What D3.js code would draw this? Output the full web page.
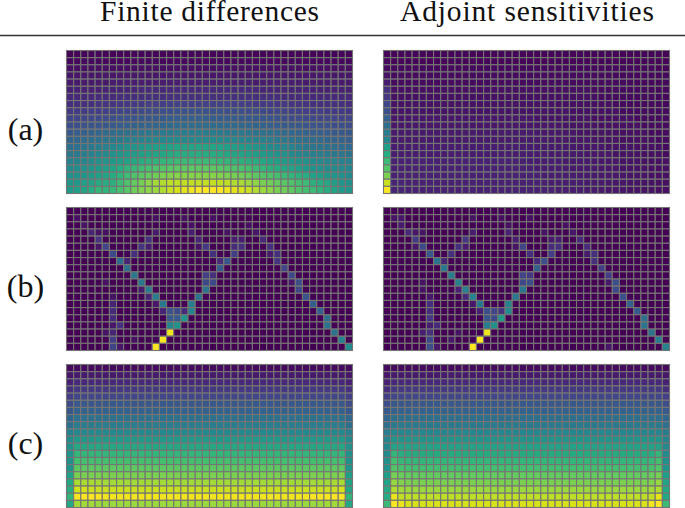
<!DOCTYPE html>
<html><head><meta charset="utf-8">
<script src="https://cdn.jsdelivr.net/npm/d3@7"></script>
<style>html,body{margin:0;padding:0;background:#fff;overflow:hidden}svg{display:block}</style>
</head><body><svg id="chart" width="685" height="508"></svg>
<script>
const columnTitles = ["Finite differences", "Adjoint sensitivities"];
const rowLabels = ["(a)", "(b)", "(c)"];
const columnCount = 40;
const rowCount = 20;

const aFiniteDifferences = [
[1,1,1,1,1,1,1,1,1,1,1,1,1,1,1,1,1,1,1,1,1,1,1,1,1,1,1,1,1,1,1,1,1,1,1,1,1,1,1,1],
[2,2,2,2,2,2,2,2,2,2,2,2,2,2,2,2,2,2,2,2,2,2,2,2,2,2,2,2,2,2,2,2,2,2,2,2,2,2,2,2],
[4,4,4,4,4,4,4,4,4,4,4,4,4,4,4,4,4,4,4,4,4,4,4,4,4,4,4,4,4,4,4,4,4,4,4,4,4,4,4,4],
[6,6,6,6,6,6,6,6,6,6,6,6,6,6,6,6,6,6,6,6,6,6,6,6,6,6,6,6,6,6,6,6,6,6,6,6,6,6,6,6],
[7,7,7,7,7,7,8,8,8,8,8,8,8,8,8,8,8,8,8,8,8,8,8,8,8,8,8,8,8,8,8,8,8,7,7,7,7,7,7,7],
[9,9,9,9,9,10,10,10,10,10,11,11,11,11,11,11,11,11,11,11,11,11,11,11,11,11,11,10,10,10,10,10,10,10,9,9,9,9,9,9],
[11,11,11,11,12,12,12,13,13,13,13,14,14,14,14,14,14,14,14,14,14,14,14,14,14,14,13,13,13,13,12,12,12,12,11,11,11,11,11,11],
[14,14,14,14,15,15,15,16,16,17,17,18,18,18,19,19,19,19,19,19,19,19,19,18,18,18,17,17,17,16,16,15,15,15,14,14,14,14,14,13],
[17,17,17,18,18,19,20,20,21,21,22,23,23,24,24,25,25,25,25,25,25,25,24,24,24,23,23,22,21,21,20,19,19,18,18,18,17,17,17,16],
[20,20,21,22,22,23,24,25,25,26,27,27,28,28,29,29,30,30,30,30,30,29,29,29,28,28,27,27,26,25,24,23,23,22,22,21,21,20,20,20],
[24,24,25,26,26,27,28,29,30,31,31,32,33,33,34,34,35,35,35,35,35,34,34,34,33,33,32,31,30,29,28,28,27,26,26,25,25,24,24,23],
[28,29,30,31,33,34,35,36,37,38,39,40,40,41,41,42,42,42,42,42,42,41,41,40,40,39,38,37,36,35,34,33,32,31,30,30,29,28,27,27],
[32,33,34,36,37,39,40,41,43,44,45,46,47,47,48,48,48,48,48,48,48,48,47,47,46,45,44,43,42,41,40,38,37,36,35,34,33,32,31,30],
[36,37,38,40,42,44,46,48,50,52,54,55,56,57,58,59,59,59,59,59,59,58,57,56,55,54,52,50,48,47,46,44,42,41,39,38,37,36,35,34],
[40,41,42,44,46,48,50,52,54,55,57,58,59,60,61,62,62,62,62,62,62,61,60,59,58,57,56,55,53,52,50,48,46,45,43,42,41,40,39,38],
[44,45,46,48,50,52,54,56,58,60,62,64,65,66,67,68,68,68,68,68,68,67,66,65,64,63,62,60,58,57,55,53,52,50,48,47,46,45,44,43],
[48,49,50,52,54,56,59,62,65,67,69,71,72,73,74,75,75,75,75,75,75,74,73,72,71,70,68,66,64,62,60,58,56,54,52,50,49,48,47,46],
[50,51,53,55,57,59,62,65,69,72,74,76,78,80,81,82,82,82,82,82,82,81,80,79,78,77,75,73,72,70,68,66,64,62,58,56,54,52,50,48],
[53,54,56,58,61,62,64,68,72,76,79,83,86,88,90,90,91,91,91,91,91,90,90,88,87,85,83,80,78,76,74,72,70,68,64,62,60,56,52,50],
[55,56,58,62,66,65,67,71,74,78,81,83,85,88,92,94,96,98,100,100,100,100,98,96,94,92,88,85,83,80,78,75,72,70,68,65,62,58,54,52]
];
const aAdjoint = [
[1,1,1,1,1,1,1,1,1,1,1,1,1,1,1,1,1,1,1,1,1,1,1,1,1,1,1,1,1,1,1,1,1,1,1,1,1,1,1,1],
[2,1,1,1,1,1,1,1,1,1,1,1,1,1,1,1,1,1,1,1,1,1,1,1,1,1,1,1,1,1,1,1,1,1,1,1,1,1,1,1],
[3,2,2,2,2,2,2,2,2,2,2,2,2,2,2,2,2,2,2,2,2,2,2,2,2,2,2,2,2,2,2,2,2,2,2,2,2,2,1,1],
[5,3,3,3,3,3,3,3,3,3,3,3,3,3,3,3,3,3,3,3,3,3,3,3,3,3,3,3,3,3,3,3,2,2,2,2,2,2,2,2],
[8,3,3,3,3,3,3,3,3,3,3,3,3,3,3,3,3,3,3,3,3,3,3,3,3,3,3,3,3,3,3,3,3,3,2,2,2,2,2,2],
[14,4,4,4,4,4,4,4,4,4,4,4,4,4,4,4,4,4,4,4,4,4,4,4,4,4,4,4,4,3,3,3,3,3,3,3,3,2,2,2],
[16,4,4,4,4,4,4,4,4,4,4,4,4,4,4,4,4,4,4,4,4,4,4,4,4,4,4,4,4,4,3,3,3,3,3,3,3,3,2,2],
[21,5,5,5,5,5,5,5,5,5,5,5,5,5,5,5,5,5,5,5,5,5,5,5,4,4,4,4,4,4,4,4,3,3,3,3,3,3,3,2],
[24,5,5,5,5,5,5,5,5,5,5,5,5,5,5,5,5,5,5,5,5,5,5,5,5,5,4,4,4,4,4,4,4,3,3,3,3,3,3,3],
[30,6,6,6,6,6,6,6,6,6,6,6,6,6,6,6,6,6,6,6,6,5,5,5,5,5,5,5,5,4,4,4,4,4,4,3,3,3,3,3],
[36,6,6,6,6,6,6,6,6,6,6,6,6,6,6,6,6,6,6,6,6,6,6,6,6,5,5,5,5,5,4,4,4,4,4,4,3,3,3,3],
[42,7,7,7,7,7,7,7,7,7,7,7,7,7,7,7,7,7,7,7,7,7,6,6,6,6,6,5,5,5,5,5,4,4,4,4,4,3,3,3],
[46,7,7,7,7,7,7,7,7,7,7,7,7,7,7,7,7,7,7,7,7,7,7,7,6,6,6,6,6,5,5,5,5,4,4,4,4,4,3,3],
[56,8,8,8,8,8,8,8,8,8,8,8,8,8,8,8,8,8,8,8,8,7,7,7,7,7,7,6,6,6,6,5,5,5,5,4,4,4,4,3],
[62,8,8,8,8,8,8,8,8,8,8,8,8,8,8,8,8,8,8,8,8,8,8,7,7,7,7,7,6,6,6,6,5,5,5,5,4,4,4,3],
[68,9,9,9,9,9,9,9,9,9,9,9,9,9,9,9,9,9,9,9,8,8,8,8,8,7,7,7,7,6,6,6,6,5,5,5,4,4,4,4],
[73,9,9,9,9,9,9,9,9,9,9,9,9,9,9,9,9,9,9,9,9,8,8,8,8,8,7,7,7,7,6,6,6,5,5,5,5,4,4,4],
[80,9,9,9,9,9,9,9,9,9,9,9,9,9,9,9,9,9,9,9,9,9,8,8,8,8,8,7,7,7,6,6,6,6,5,5,5,4,4,4],
[92,10,10,9,9,9,9,9,9,9,9,9,9,9,9,9,9,9,9,9,9,9,9,8,8,8,8,8,7,7,7,6,6,6,5,5,5,5,4,4],
[100,10,10,9,9,9,9,9,9,9,9,9,9,9,9,9,9,9,9,9,9,9,9,9,8,8,8,8,7,7,7,6,6,6,5,5,5,5,4,4]
];
// Non-zero cells of panel (b): [row, column, value]
const bFiniteDifferences = [
[1,1,4],[2,2,5],[3,3,10],[4,4,15],[5,5,20],[6,6,22],[7,7,34],[8,8,36],[9,9,40],[10,10,40],[11,11,42],[12,12,42],[13,13,40],[14,14,25],
[16,14,45],[16,15,52],[15,14,28],[15,15,28],[14,15,22],[14,16,12],[15,16,52],[14,17,45],[13,17,42],[12,18,38],[11,19,38],[10,19,22],[10,20,22],[9,19,18],[9,20,14],[8,21,28],[7,22,26],[7,21,12],[6,23,18],[5,24,14],[5,23,12],[4,23,8],[4,24,8],[3,22,5],
[19,12,100],[18,13,100],[17,14,98],
[7,8,10],[6,9,14],[5,10,15],[5,11,8],[4,11,14],[3,12,7],[1,12,4],[5,4,5],[3,4,5],[3,5,4],[11,10,8],[12,11,10],[13,12,6],[14,13,10],
[3,17,8],[4,18,10],[5,19,16],[6,20,14],[1,16,4],[2,17,4],[5,18,5],[1,20,4],
[4,27,11],[5,28,13],[6,29,14],[7,29,15],[6,28,7],[8,30,20],[9,31,22],[10,32,24],[11,32,22],[10,31,6],[12,33,25],[13,34,30],[14,35,30],[15,36,36],[16,36,38],[17,37,38],[18,38,44],[19,39,48],[3,26,6],[2,25,4],
[19,6,20],[18,6,18],[17,6,10],[17,5,5],[16,6,6],[16,7,14],[15,6,12],[14,6,12],[13,6,10],[12,6,5],[19,7,6],[10,5,4],[18,9,4]
];
const bAdjoint = [
[1,1,5],[2,2,7],[3,3,12],[4,4,17],[5,5,22],[6,6,26],[7,7,38],[8,8,40],[9,9,42],[10,10,43],[11,11,44],[12,12,44],[13,13,40],[14,14,24],
[16,14,42],[16,15,50],[15,14,26],[15,15,22],[14,15,20],[14,16,15],[15,16,55],[14,17,48],[13,17,44],[12,18,40],[11,19,40],[10,19,22],[10,20,24],[9,19,20],[9,20,16],[8,21,30],[7,22,24],[7,21,12],[6,23,18],[5,24,14],[5,23,12],[4,23,7],[4,24,8],[3,22,5],
[19,12,100],[18,13,100],[17,14,98],
[7,8,10],[6,9,14],[5,10,14],[5,11,8],[4,11,16],[3,12,8],[1,12,5],[5,4,6],[3,4,6],[3,5,5],[1,2,6],[11,10,9],[12,11,11],[13,12,6],[14,13,9],[11,5,4],[10,5,5],
[3,17,9],[4,18,8],[5,19,20],[6,20,13],[1,16,4],[2,17,4],[5,18,5],[1,20,4],
[4,27,12],[5,28,12],[6,29,14],[7,29,14],[6,28,7],[8,30,18],[9,31,18],[10,32,24],[11,32,22],[10,31,7],[12,33,24],[13,34,30],[14,35,28],[15,36,36],[16,36,38],[17,37,38],[18,38,42],[19,39,44],[3,26,6],[2,25,4],[19,31,6],
[19,6,24],[18,6,22],[17,6,14],[17,5,8],[16,6,8],[16,7,12],[15,6,16],[14,6,14],[13,6,13],[12,6,6],[19,7,6],[18,9,6],[17,10,5]
];
const cFiniteDifferences = [
[3,3,3,3,3,3,3,3,3,3,3,3,3,3,3,3,3,3,3,3,3,3,3,3,3,3,3,3,3,3,3,3,3,3,3,3,3,3,3,3],
[6,7,7,7,7,7,7,7,7,7,7,7,7,7,7,7,7,7,7,7,7,7,7,7,7,7,7,7,7,7,7,7,7,7,7,7,7,7,7,6],
[9,11,11,11,11,11,11,11,11,11,11,11,11,11,11,11,11,11,11,11,11,11,11,11,11,11,11,11,11,11,11,11,11,11,11,11,11,11,11,9],
[14,16,16,16,16,16,16,16,16,16,16,16,16,16,16,16,16,16,16,16,16,16,16,16,16,16,16,16,16,16,16,16,16,16,16,16,16,16,16,14],
[18,21,21,21,21,21,21,21,21,21,21,21,21,21,21,21,21,21,21,21,21,21,21,21,21,21,21,21,21,21,21,21,21,21,21,21,21,21,21,18],
[23,27,27,27,27,27,27,27,27,27,27,27,27,27,27,27,27,27,27,27,27,27,27,27,27,27,27,27,27,27,27,27,27,27,27,27,27,27,27,23],
[27,31,31,31,31,31,31,31,31,31,31,31,31,31,31,31,31,31,31,31,31,31,31,31,31,31,31,31,31,31,31,31,31,31,31,31,31,31,31,27],
[33,37,37,37,37,37,37,37,37,37,37,37,37,37,37,37,37,37,37,37,37,37,37,37,37,37,37,37,37,37,37,37,37,37,37,37,37,37,37,33],
[37,42,42,42,42,42,42,42,42,42,42,42,42,42,42,42,42,42,42,42,42,42,42,42,42,42,42,42,42,42,42,42,42,42,42,42,42,42,42,36],
[44,47,47,47,47,47,47,47,47,47,47,47,47,47,47,47,47,47,47,47,47,47,47,47,47,47,47,47,47,47,47,47,47,47,47,47,47,47,47,43],
[49,54,54,54,54,54,54,54,54,54,54,54,54,54,54,54,54,54,54,54,54,54,54,54,54,54,54,54,54,54,54,54,54,54,54,54,54,54,54,48],
[50,60,60,60,60,60,60,60,60,60,60,60,60,60,60,60,60,60,60,60,60,60,60,60,60,60,60,60,60,60,60,60,60,60,60,60,60,60,60,50],
[52,66,66,66,66,66,66,66,66,66,66,66,66,66,66,66,66,66,66,66,66,66,66,66,66,66,66,66,66,66,66,66,66,66,66,66,66,66,66,50],
[50,70,70,70,70,70,70,70,70,70,70,70,70,70,70,70,70,70,70,70,70,70,70,70,70,70,70,70,70,70,70,70,70,70,70,70,70,70,70,50],
[52,75,75,75,75,75,75,75,75,75,75,75,75,75,75,75,75,75,75,75,75,75,75,75,75,75,75,75,75,75,75,75,75,75,75,75,75,75,75,52],
[58,80,80,80,80,80,80,80,80,80,80,80,80,80,80,80,80,80,80,80,80,80,80,80,80,80,80,80,80,80,80,80,80,80,80,80,80,80,81,56],
[60,87,87,87,87,86,86,86,86,86,86,86,86,86,86,86,86,86,86,86,86,86,86,86,86,86,86,86,86,86,86,86,86,86,86,86,86,87,87,58],
[62,93,93,92,92,92,92,92,92,92,92,92,92,92,92,92,92,92,92,92,92,92,92,92,92,92,92,92,92,92,92,92,92,92,92,92,92,92,93,60],
[66,100,100,100,99,98,98,98,98,98,98,98,98,98,98,98,98,98,98,98,98,98,98,98,98,98,98,98,98,98,98,98,98,98,99,99,99,100,100,66],
[60,86,86,86,85,85,85,85,85,85,85,85,85,85,85,85,85,85,85,85,85,85,85,85,85,85,85,85,85,85,85,85,85,85,85,85,86,86,86,60]
];
const cAdjoint = [
[3,3,3,3,3,3,3,3,3,3,3,3,3,3,3,3,3,3,3,3,3,3,3,3,3,3,3,3,3,3,3,3,3,3,3,3,3,3,3,3],
[6,7,7,7,7,7,7,7,7,7,7,7,7,7,7,7,7,7,7,7,7,7,7,7,7,7,7,7,7,7,7,7,7,7,7,7,7,7,7,6],
[9,11,11,11,11,11,11,11,11,11,11,11,11,11,11,11,11,11,11,11,11,11,11,11,11,11,11,11,11,11,11,11,11,11,11,11,11,11,11,9],
[13,16,16,16,16,16,16,16,16,16,16,16,16,16,16,16,16,16,16,16,16,16,16,16,16,16,16,16,16,16,16,16,16,16,16,16,16,16,16,13],
[18,21,21,21,21,21,21,21,21,21,21,21,21,21,21,21,21,21,21,21,21,21,21,21,21,21,21,21,21,21,21,21,21,21,21,21,21,21,21,18],
[24,27,27,27,27,27,27,27,27,27,27,27,27,27,27,27,27,27,27,27,27,27,27,27,27,27,27,27,27,27,27,27,27,27,27,27,27,27,27,24],
[28,31,31,31,31,31,31,31,31,31,31,31,31,31,31,31,31,31,31,31,31,31,31,31,31,31,31,31,31,31,31,31,31,31,31,31,31,31,31,28],
[33,36,36,36,36,36,36,36,36,36,36,36,36,36,36,36,36,36,36,36,36,36,36,36,36,36,36,36,36,36,36,36,36,36,36,36,36,36,36,33],
[36,41,41,41,41,41,41,41,41,41,41,41,41,41,41,41,41,41,41,41,41,41,41,41,41,41,41,41,41,41,41,41,41,41,41,41,41,41,41,36],
[42,46,46,46,46,46,46,46,46,46,46,46,46,46,46,46,46,46,46,46,46,46,46,46,46,46,46,46,46,46,46,46,46,46,46,46,46,46,46,42],
[45,52,52,52,52,52,52,52,52,52,52,52,52,52,52,52,52,52,52,52,52,52,52,52,52,52,52,52,52,52,52,52,52,52,52,52,52,52,52,45],
[47,58,58,58,58,58,58,58,58,58,58,58,58,58,58,58,58,58,58,58,58,58,58,58,58,58,58,58,58,58,58,58,58,58,58,58,58,58,58,47],
[48,66,62,61,61,61,61,61,61,61,61,61,61,61,61,61,61,61,61,61,61,61,61,61,61,61,61,61,61,61,61,61,61,61,61,61,61,62,66,48],
[50,70,67,66,66,66,66,66,66,66,66,66,66,66,66,66,66,66,66,66,66,66,66,66,66,66,66,66,66,66,66,66,66,66,66,66,66,67,70,50],
[52,73,71,70,70,70,70,70,70,70,70,70,70,70,70,70,70,70,70,70,70,70,70,70,70,70,70,70,70,70,70,70,70,70,70,70,70,71,73,52],
[56,79,77,76,76,76,76,76,76,76,76,76,76,76,76,76,76,76,76,76,76,76,76,76,76,76,76,76,76,76,76,76,76,76,76,76,76,77,79,56],
[58,84,81,80,80,80,80,80,80,80,80,80,80,80,80,80,80,80,80,80,80,80,80,80,80,80,80,80,80,80,80,80,80,80,80,80,80,81,84,58],
[60,88,86,85,85,85,85,85,85,85,85,85,85,85,85,85,85,85,85,85,85,85,85,85,85,85,85,85,85,85,85,85,85,85,85,85,85,86,88,60],
[62,97,91,90,90,90,90,90,90,90,90,90,90,90,90,90,90,90,90,90,90,90,90,90,90,90,90,90,90,90,90,90,90,90,90,90,90,91,96,60],
[68,100,97,94,94,94,94,94,94,94,94,94,94,94,94,94,94,94,94,94,94,94,94,94,94,94,94,94,94,94,94,94,94,94,94,94,94,98,100,68]
];

function denseFromSparse(cells) {
  const grid = d3.range(rowCount).map(() => new Array(columnCount).fill(0));
  cells.forEach(([r, c, v]) => { grid[r][c] = v; });
  return grid;
}
const panels = [
  [aFiniteDifferences, aAdjoint],
  [denseFromSparse(bFiniteDifferences), denseFromSparse(bAdjoint)],
  [cFiniteDifferences, cAdjoint]
];

const svg = d3.select("#chart");
const panelX = d3.scaleOrdinal().domain([0, 1]).range([66.5, 383.5]);
const panelY = d3.scaleOrdinal().domain([0, 1, 2]).range([50.5, 207.5, 364.5]);
const panelWidth = 286, panelHeight = 143;
const x = d3.scaleBand().domain(d3.range(columnCount)).range([0, panelWidth]);
const y = d3.scaleBand().domain(d3.range(rowCount)).range([0, panelHeight]);
const color = d3.scaleSequential(d3.interpolateViridis).domain([0, 100]);

panels.forEach((pair, rowIndex) => pair.forEach((grid, colIndex) => {
  const g = svg.append("g").attr("transform", `translate(${panelX(colIndex)},${panelY(rowIndex)})`);
  const cells = grid.flatMap((row, r) => row.map((v, c) => ({ r, c, v })));
  g.selectAll("rect").data(cells).join("rect")
    .attr("x", d => x(d.c)).attr("y", d => y(d.r))
    .attr("width", x.bandwidth()).attr("height", y.bandwidth())
    .attr("fill", d => color(d.v))
    .attr("stroke", "#757575").attr("stroke-width", 1.1);
}));

const serif = "'Liberation Serif', serif";
const titleX = d3.scaleOrdinal().domain([0, 1]).range([209.5, 527]);
const titleWidth = d3.scaleOrdinal().domain([0, 1]).range([219, 254]);
svg.selectAll("text.title").data(columnTitles).join("text").attr("class", "title")
  .attr("x", (d, i) => titleX(i)).attr("y", 21)
  .attr("text-anchor", "middle").attr("font-family", serif).attr("font-size", 29.5)
  .attr("textLength", (d, i) => titleWidth(i)).attr("lengthAdjust", "spacing")
  .attr("fill", "#111").text(d => d);

svg.append("line").attr("x1", 0).attr("x2", 685).attr("y1", 35.5).attr("y2", 35.5)
  .attr("stroke", "#333").attr("stroke-width", 1.3);

const labelY = d3.scaleOrdinal().domain([0, 1, 2]).range([139.5, 296.5, 453.5]);
svg.selectAll("text.row").data(rowLabels).join("text").attr("class", "row")
  .attr("x", 25.5).attr("y", (d, i) => labelY(i))
  .attr("text-anchor", "middle").attr("font-family", serif).attr("font-size", 32)
  .attr("fill", "#111").text(d => d);
</script></body></html>
